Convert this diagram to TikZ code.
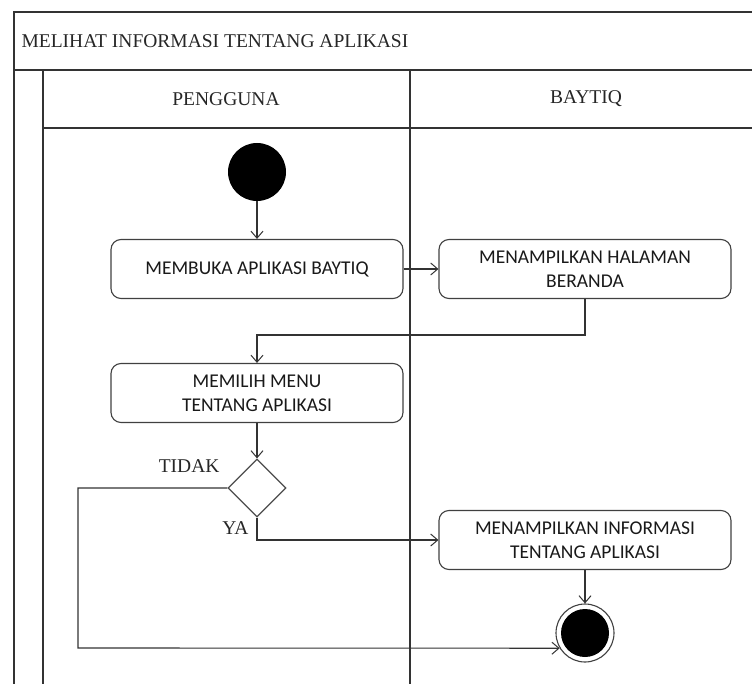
\documentclass[tikz,border=0pt]{standalone}
\usepackage{fontspec}
\setmainfont{Liberation Serif}
\newfontfamily\boxfont{Carlito}
\usetikzlibrary{arrows.meta,shapes.geometric}

\tikzset{
  frame/.style={draw=black!80, line width=1.2pt},
  action/.style={draw=black!75, line width=1.1pt, rounded corners=10pt,
    minimum width=292pt, minimum height=59pt, align=center,
    font=\boxfont\fontsize{19.5}{24}\selectfont, text=black!90, inner sep=0pt},
  decision/.style={diamond, draw=black!70, line width=1.1pt, aspect=1,
    minimum width=58pt, minimum height=58pt, inner sep=0pt},
  flow/.style={draw=black!80, line width=1.1pt,
    -{Straight Barb[length=7pt,width=12pt,line width=1pt]}},
  lanelabel/.style={font=\fontsize{19.5}{22}\selectfont, text=black!85},
}

\begin{document}
\begin{tikzpicture}[x=1pt,y=-1pt]
\useasboundingbox (0,0) rectangle (752,684);

% pool frame and lane headers
\draw[frame] (14,684) -- (14,12) -- (752,12);
\draw[frame] (14,70) -- (752,70);
\draw[frame] (43,684) -- (43,70);
\draw[frame] (43,128) -- (752,128);
\draw[frame] (410,70) -- (410,684);

\node[lanelabel, anchor=west] (title) at (18,41) {MELIHAT INFORMASI TENTANG APLIKASI};
\node[lanelabel] (lane1) at (226,99) {PENGGUNA};
\node[lanelabel] (lane2) at (586,99) {BAYTIQ};

% activity nodes
\node[circle, fill=black, minimum size=58pt, inner sep=0pt] (start) at (257,172) {};
\node[action] (open) at (257,269) {MEMBUKA APLIKASI BAYTIQ};
\node[action] (home) at (585,269) {MENAMPILKAN HALAMAN\\BERANDA};
\node[action] (menu) at (257,393) {MEMILIH MENU\\TENTANG APLIKASI};
\node[decision] (dec) at (257,488) {};
\node[action] (info) at (585,540) {MENAMPILKAN INFORMASI\\TENTANG APLIKASI};
\node[circle, draw=black!75, line width=1.1pt, minimum size=58pt, inner sep=0pt] (end) at (585,633) {};
\node[circle, fill=black, minimum size=48pt, inner sep=0pt] (endcore) at (end) {};

\node[lanelabel, anchor=base east] (tidak) at (223,472) {TIDAK};
\node[lanelabel, anchor=base east] (ya) at (252,534) {YA};

% control flow
\draw[flow] (start) -- (open);
\draw[flow] (open) -- (home);
\draw[flow] (home.south) -- (585,335) -- (257,335) -- (menu.north);
\draw[flow] (menu) -- (dec);
\draw[flow] (dec.south) -- (257,540) -- (info.west);
\draw[flow] (dec.west) -- (78,488) -- (78,648) -- (end.211);
\draw[flow] (info) -- (end);
\end{tikzpicture}
\end{document}
